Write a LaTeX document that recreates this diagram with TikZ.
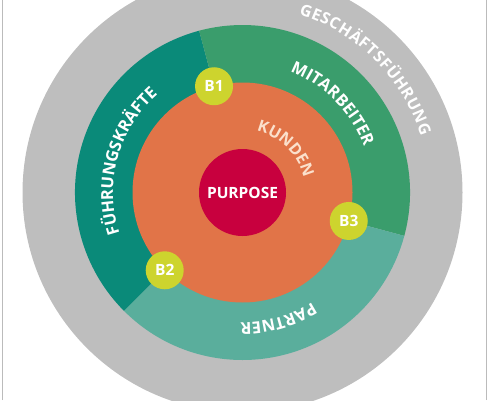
\documentclass[tikz,border=0pt]{standalone}
\usepackage{fontspec}
\setmainfont{Open Sans}
\newfontfamily\osb{Open Sans}[UprightFont={* Bold}]
\usetikzlibrary{decorations.text}
\definecolor{ggray}{HTML}{BEBEBE}
\definecolor{fkcol}{HTML}{0A8A79}
\definecolor{mitcol}{HTML}{3A9D6C}
\definecolor{parcol}{HTML}{5AAE9C}
\definecolor{orng}{HTML}{E17448}
\definecolor{rred}{HTML}{C8003E}
\definecolor{badgecol}{HTML}{CDD42E}
\definecolor{kundtxt}{HTML}{FBE0CC}
\definecolor{framecol}{HTML}{BBBBBB}
\newcommand{\arcfont}{\osb\fontsize{16.5}{18}\selectfont}
\newcommand{\gffont}{\osb\fontsize{16}{18}\selectfont}
\tikzset{
  badge/.style={circle, fill=badgecol, minimum size=38pt, inner sep=0pt, text=white,
    font=\osb\fontsize{15.5}{18}\selectfont},
  arctext/.style={decorate, decoration={text along path, text align=fit to path, text={#1}}}
}
\begin{document}
\begin{tikzpicture}[x=1pt,y=1pt]
\useasboundingbox (0,0) rectangle (489,400);
\clip (0,0) rectangle (489,400);
\coordinate (c) at (242.5,207.5);
% outer gray ring
\fill[ggray] (c) circle[radius=220];
% three segments
\fill[fkcol] (c) -- ([shift={(105:167.5)}]c) arc[start angle=105,end angle=225,radius=167.5] -- cycle;
\fill[mitcol] (c) -- ([shift={(-15:167.5)}]c) arc[start angle=-15,end angle=105,radius=167.5] -- cycle;
\fill[parcol] (c) -- ([shift={(225:167.5)}]c) arc[start angle=225,end angle=345,radius=167.5] -- cycle;
% orange and red circles
\node[circle, fill=orng, minimum size=220pt, inner sep=0pt] (kunden) at (c) {};
\node[circle, fill=rred, minimum size=87pt, inner sep=0pt, text=white,
  font=\osb\fontsize{15.5}{18}\selectfont] (purpose) at (c) {PURPOSE};
% badges
\node[badge] (b1) at ([shift={(105:110)}]c) {B1};
\node[badge] (b2) at ([shift={(225:110)}]c) {B2};
\node[badge] (b3) at ([shift={(-15:110)}]c) {B3};
% curved texts
\path[font=\gffont, arctext={|\gffont\color{white}|GESCHÄFTSFÜHRUNG}]
  ([shift={(72.5:187)}]c) arc[start angle=72.5,end angle=17.5,radius=187];
\path[font=\arcfont, arctext={|\arcfont\color{white}|MITARBEITER}]
  ([shift={(68.5:130)}]c) arc[start angle=68.5,end angle=21.5,radius=130];
\path[font=\arcfont, arctext={|\arcfont\color{white}|FÜHRUNGSKRÄFTE}]
  ([shift={(198.5:129.5)}]c) arc[start angle=198.5,end angle=132.5,radius=129.5];
\path[font=\arcfont, arctext={|\arcfont\color{white}|PARTNER}]
  ([shift={(-57.5:130)}]c) arc[start angle=-57.5,end angle=-90.5,radius=130];
\path[font=\arcfont, arctext={|\osb\fontsize{16}{18}\selectfont\color{kundtxt}|KUNDEN}]
  ([shift={(77:63)}]c) arc[start angle=77,end angle=15,radius=63];
% frame lines
\draw[framecol, line width=1.2pt] (2.5,0) -- (2.5,400);
\draw[framecol, line width=1.2pt] (486.5,0) -- (486.5,400);
\end{tikzpicture}
\end{document}
